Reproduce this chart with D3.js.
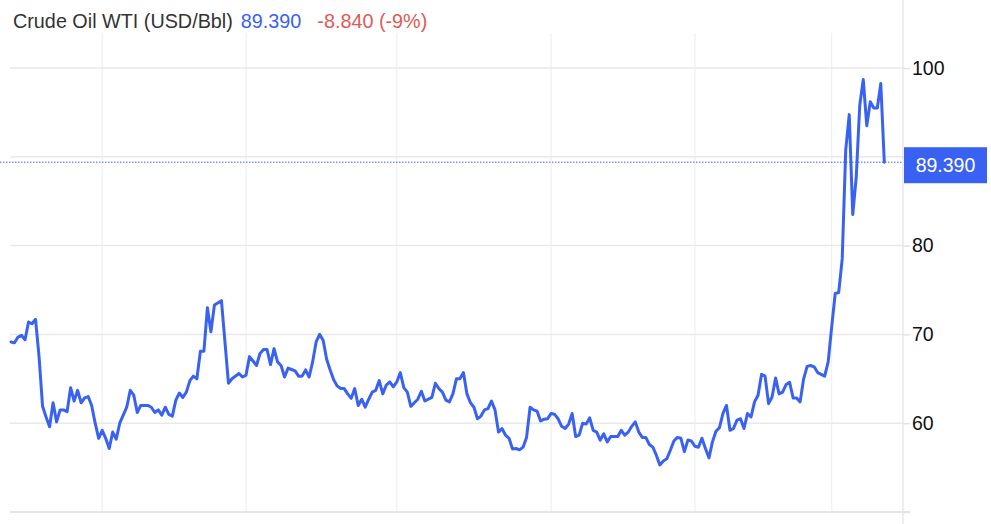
<!DOCTYPE html>
<html>
<head>
<meta charset="utf-8">
<script src="https://cdn.jsdelivr.net/npm/d3@7"></script>
<style>
  html, body { margin: 0; padding: 0; background: #ffffff; }
  svg { display: block; font-family: "Liberation Sans", Arial, Helvetica, sans-serif; }
</style>
</head>
<body>
<svg id="chart" width="991" height="524"></svg>
<script>
// ---- data (trading-day index, price) ----
const titleText = "Crude Oil WTI (USD/Bbl)";
const lastPriceLabel = "89.390";
const changeLabel = "-8.840 (-9%)";
const lastPrice = 89.39;

const dayIndex = [
  0,1,2,3,4,5,6,7,8,9,10,11,12,13,14,15,16,17,18,19,20,21,22,23,24,25,26,27,28,29,30,31,
  33,34,35,36,37,39,40,41,42,43,44,45,46,47,48,49,50,51,52,53,54,55,56,57,58,60,
  62,63,65,66,67,68,69,70,71,72,73,74,75,76,77,78,79,80,81,82,83,84,85,86,87,88,89,90,
  91,92,93,94,95,96,97,98,99,100,101,102,103,104,105,106,107,108,109,110,111,112,113,114,
  115,116,117,118,120,121,122,123,124,125,126,127,128,129,130,131,132,133,134,135,136,137,
  138,139,140,141,142,143,144,145,146,147,148,149,150,151,152,153,154,155,156,157,158,159,
  160,161,162,163,164,165,166,167,168,169,170,171,173,174,175,176,177,178,179,180,181,182,
  183,184,185,186,187,188,189,190,191,192,193,194,195,196,197,198,199,200,201,202,203,204,
  205,206,207,208,209,210,211,212,213,214,215,216,217,218,219,220,221,222,223,224,225,226,
  227,228,229,230,231,232,233,234,235,236,237,238,239,240,241,242,243,244,245,246,247,248,249
];
const price = [
  69.15,69.05,69.7,69.9,69.4,71.4,71.2,71.7,67.5,61.9,60.7,59.6,62.3,60.15,61.5,61.5,61.3,64.0,62.5,63.7,62.3,62.85,63.0,62.0,60.0,58.3,59.2,58.3,57.15,59.0,58.2,60.0,
  61.8,63.7,63.15,61.2,62.0,62.0,61.8,61.2,61.5,60.9,61.8,61.0,60.8,62.6,63.4,62.9,63.5,64.8,65.3,65.0,68.1,68.1,73.0,70.3,73.3,73.8,
  64.5,65.0,65.6,65.2,65.4,67.5,67.0,66.5,67.85,68.3,68.3,66.6,68.4,66.9,66.5,65.2,66.2,66.05,65.9,65.3,65.3,66.0,65.2,66.9,69.15,70.0,69.35,67.2,
  66.0,64.9,64.2,63.9,63.9,63.3,62.8,63.9,62.0,62.7,61.8,62.7,63.5,63.7,64.8,63.3,64.3,64.65,64.1,64.65,65.7,64.0,63.5,61.9,
  62.3,62.7,63.6,62.5,62.9,64.5,63.9,63.5,62.6,62.4,63.3,65.0,65.0,65.7,63.3,62.3,61.8,60.5,60.8,61.5,61.65,62.5,
  61.5,59.0,59.4,58.65,58.3,57.1,57.15,57.0,57.3,58.4,61.8,61.5,61.35,60.25,60.45,60.5,61.1,61.0,60.5,59.65,59.4,59.9,
  61.1,58.5,58.65,60.0,59.9,60.6,59.2,59.0,58.1,58.8,57.9,58.5,58.5,59.2,58.65,59.0,59.65,60.15,59.0,58.4,58.4,57.6,
  57.3,56.4,55.3,55.75,56.0,56.95,58.0,58.4,58.3,56.8,58.1,58.0,57.4,57.3,58.3,57.15,56.1,57.9,59.1,59.5,61.1,62.0,
  59.2,59.4,60.35,60.5,59.4,61.1,60.7,62.4,63.15,65.5,65.3,62.2,62.95,65.1,63.3,63.5,64.35,64.6,62.85,62.85,62.4,65.0,
  66.4,66.5,66.35,65.7,65.5,65.3,66.9,70.85,74.6,74.7,78.5,90.75,94.75,83.5,87.7,95.8,98.7,93.5,96.2,95.5,95.5,98.25,89.39
];
const yTicks = [60, 70, 80, 90, 100];
const yTickLabels = ["60", "70", "80", "", "100"];   // 90 is hidden behind the last-price badge
const monthGridDays = [26, 67, 110, 154, 195, 234];
const lastDay = 249;

// ---- drawing ----
const svg = d3.select("#chart");
const W = 991, H = 524;
const plotLeft = 10, axisX = 903, plotBottom = 512;

const x = d3.scaleLinear().domain([0, lastDay]).range([11, 884.3]);
const y = d3.scaleLinear().domain([50, 100]).range([plotBottom, 68]);

const blue = "#3a62f2";

// vertical month gridlines
svg.append("g").selectAll("line").data(monthGridDays).join("line")
  .attr("x1", d => x(d)).attr("x2", d => x(d))
  .attr("y1", 33).attr("y2", plotBottom)
  .attr("stroke", "#eef0f7").attr("stroke-width", 1.2);

// horizontal gridlines
svg.append("g").selectAll("line").data(yTicks).join("line")
  .attr("x1", plotLeft).attr("x2", axisX)
  .attr("y1", d => y(d)).attr("y2", d => y(d))
  .attr("stroke", "#e9e9e9").attr("stroke-width", 1.5);

// bottom axis line
svg.append("line")
  .attr("x1", plotLeft).attr("x2", axisX + 7)
  .attr("y1", plotBottom).attr("y2", plotBottom)
  .attr("stroke", "#dcdcdc").attr("stroke-width", 1.5);

// right axis line
svg.append("line")
  .attr("x1", axisX).attr("x2", axisX)
  .attr("y1", 0).attr("y2", H)
  .attr("stroke", "#e3e3e3").attr("stroke-width", 1.2);

// right axis
const yAxis = d3.axisRight(y).tickValues(yTicks.concat([50])).tickSize(7).tickPadding(2)
  .tickFormat(d => { const i = yTicks.indexOf(d); return i < 0 ? "" : yTickLabels[i]; });
const gAxis = svg.append("g").attr("transform", `translate(${axisX},0)`).call(yAxis);
gAxis.select(".domain").remove();
gAxis.selectAll(".tick line").attr("stroke", "#e3e3e3").attr("stroke-width", 1.5);
gAxis.selectAll(".tick text")
  .attr("fill", "#111").attr("font-size", 19.5)
  .attr("font-family", "'Liberation Sans', Arial, sans-serif");

// dotted last price line
svg.append("line")
  .attr("x1", 0).attr("x2", axisX)
  .attr("y1", y(lastPrice)).attr("y2", y(lastPrice))
  .attr("stroke", blue).attr("stroke-width", 1)
  .attr("stroke-dasharray", "1.5,1.5");

// price line
const line = d3.line()
  .x((d, i) => x(dayIndex[i]))
  .y(d => y(d));
svg.append("path")
  .datum(price)
  .attr("d", line)
  .attr("fill", "none")
  .attr("stroke", blue)
  .attr("stroke-width", 3)
  .attr("stroke-linejoin", "round")
  .attr("stroke-linecap", "round");

// last price badge
const by = y(lastPrice);
svg.append("rect")
  .attr("x", axisX + 1).attr("y", by - 15)
  .attr("width", 83).attr("height", 36)
  .attr("fill", blue);
svg.append("text")
  .attr("x", axisX + 1 + 41.5).attr("y", by + 3)
  .attr("dy", "0.35em")
  .attr("text-anchor", "middle")
  .attr("fill", "#ffffff").attr("font-size", 19.5)
  .text(lastPriceLabel);

// title
const t = svg.append("text").attr("x", 13).attr("y", 28).attr("font-size", 19.8);
t.append("tspan").attr("fill", "#333333").text(titleText);
t.append("tspan").attr("fill", blue).attr("dx", 8).text(lastPriceLabel);
t.append("tspan").attr("fill", "#e05a56").attr("dx", 16).text(changeLabel);
</script>
</body>
</html>
